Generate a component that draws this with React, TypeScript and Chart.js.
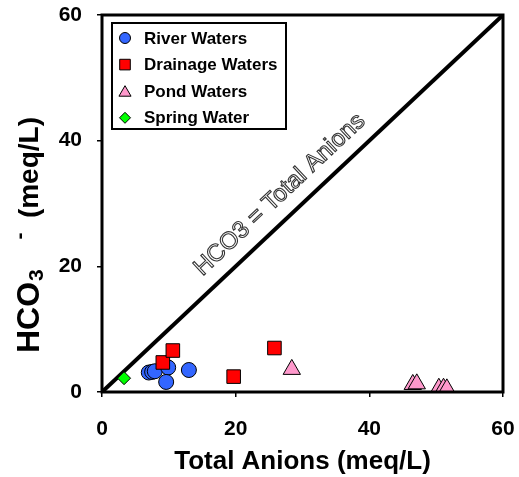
import React, { useEffect, useRef } from "react";
import { Chart, registerables } from "chart.js";

Chart.register(...registerables);

// Sample measurements: total anions vs bicarbonate (meq/L)
const riverX = [7.0, 7.5, 7.9, 9.9, 9.6, 13.0];
const riverY = [3.1, 3.2, 3.3, 3.9, 1.6, 3.5];
const drainageX = [9.1, 10.6, 19.7, 25.8];
const drainageY = [4.7, 6.6, 2.45, 7.0];
const pondX = [28.4, 46.5, 47.1, 50.4, 51.1, 51.6];
const pondY = [3.6, 1.2, 1.3, 0.6, 0.6, 0.5];
const springX = [3.3];
const springY = [2.2];

// 1:1 reference line
const equalLineX = [0, 60];
const equalLineY = [0, 60];

const axisTicks = [0, 20, 40, 60];
const seriesNames = ["River Waters", "Drainage Waters", "Pond Waters", "Spring Water"];
const equalLineLabel = "HCO3 = Total Anions";
const xTitle = "Total Anions (meq/L)";

const FONT = "'Liberation Sans', Arial, sans-serif";

const zip = (xs: number[], ys: number[]) => xs.map((x, i) => ({ x, y: ys[i] }));

const styles = [
  { style: "circle", fill: "#3366ff", radius: 7.5 },
  { style: "rect", fill: "#ff0000", radius: 9.6 },
  { style: "triangle", fill: "#ff99cc", radius: 10 },
  { style: "rectRot", fill: "#00ff00", radius: 6.5 },
];

function drawMarker(ctx: CanvasRenderingContext2D, kind: string, x: number, y: number, r: number, fill: string) {
  ctx.save();
  ctx.beginPath();
  if (kind === "circle") {
    ctx.arc(x, y, r, 0, Math.PI * 2);
  } else if (kind === "rect") {
    const s = r * Math.SQRT1_2;
    ctx.rect(x - s, y - s, 2 * s, 2 * s);
  } else if (kind === "triangle") {
    ctx.moveTo(x, y - r);
    ctx.lineTo(x + r * Math.sin(Math.PI * 2 / 3), y - r * Math.cos(Math.PI * 2 / 3));
    ctx.lineTo(x - r * Math.sin(Math.PI * 2 / 3), y - r * Math.cos(Math.PI * 2 / 3));
    ctx.closePath();
  } else {
    ctx.moveTo(x - r, y);
    ctx.lineTo(x, y - r);
    ctx.lineTo(x + r, y);
    ctx.lineTo(x, y + r);
    ctx.closePath();
  }
  ctx.fillStyle = fill;
  ctx.fill();
  ctx.lineWidth = 1;
  ctx.strokeStyle = "#000";
  ctx.stroke();
  ctx.restore();
}

const decorPlugin = {
  id: "decor",
  afterDatasetsDraw(chart: any) {
    const { ctx, chartArea, scales } = chart;
    const xs = scales.x;
    const ys = scales.y;

    // frame around plot area
    ctx.save();
    ctx.lineWidth = 3;
    ctx.strokeStyle = "#000";
    ctx.strokeRect(chartArea.left, chartArea.top, chartArea.right - chartArea.left, chartArea.bottom - chartArea.top);
    ctx.restore();

    // label along the 1:1 line
    const x0 = xs.getPixelForValue(0), y0 = ys.getPixelForValue(0);
    const x1 = xs.getPixelForValue(60), y1 = ys.getPixelForValue(60);
    const ang = Math.atan2(y1 - y0, x1 - x0);
    const px = xs.getPixelForValue(26.6);
    const py = ys.getPixelForValue(31.4);
    ctx.save();
    ctx.translate(px, py);
    ctx.rotate(ang);
    ctx.font = `24px ${FONT}`;
    ctx.textAlign = "center";
    ctx.textBaseline = "middle";
    ctx.fillStyle = "#ffffff";
    ctx.fillText(equalLineLabel, 0, 0);
    ctx.lineWidth = 1.1;
    ctx.strokeStyle = "#333";
    ctx.strokeText(equalLineLabel, 0, 0);
    ctx.restore();

    // legend box
    const lx = chartArea.left + 10, ly = chartArea.top + 8;
    ctx.save();
    ctx.fillStyle = "#fff";
    ctx.fillRect(lx, ly, 174, 106);
    ctx.lineWidth = 2;
    ctx.strokeStyle = "#000";
    ctx.strokeRect(lx, ly, 174, 106);
    ctx.font = `bold 17px ${FONT}`;
    ctx.textBaseline = "middle";
    ctx.textAlign = "left";
    seriesNames.forEach((name, i) => {
      const cy = ly + 15 + i * 26.6;
      const st = styles[i];
      const r = st.style === "rect" ? 7.5 : st.style === "triangle" ? 7 : 5.5;
      drawMarker(ctx, st.style, lx + 13, cy + (st.style === "triangle" ? 1.5 : 0), r, st.fill);
      ctx.fillStyle = "#000";
      ctx.fillText(name, lx + 32, cy + 1);
    });
    ctx.restore();

    // y-axis title with sub/superscript, running bottom to top
    ctx.save();
    ctx.translate(30, 353);
    ctx.rotate(-Math.PI / 2);
    ctx.fillStyle = "#000";
    ctx.textBaseline = "middle";
    ctx.textAlign = "left";
    ctx.font = `bold 32px ${FONT}`;
    ctx.fillText("HCO", 0, 0);
    const cx = ctx.measureText("HCO").width + 1;
    ctx.font = `bold 21px ${FONT}`;
    ctx.fillText("3", cx, 7);
    ctx.textAlign = "center";
    ctx.fillText("-", 117, -10);
    ctx.textAlign = "left";
    ctx.font = `bold 28px ${FONT}`;
    const tail = "(meq/L)";
    const tailW = ctx.measureText(tail).width;
    ctx.fillText(tail, 353 - 117 - tailW, 0);
    ctx.restore();
  },
};

export default function App() {
  const canvasRef = useRef<HTMLCanvasElement | null>(null);

  useEffect(() => {
    const canvas = canvasRef.current;
    if (!canvas) return;
    const ds = [
      { label: seriesNames[0], data: zip(riverX, riverY), order: 2, ...styles[0] },
      { label: seriesNames[1], data: zip(drainageX, drainageY), order: 1, ...styles[1] },
      { label: seriesNames[2], data: zip(pondX, pondY), order: 1, ...styles[2] },
      { label: seriesNames[3], data: zip(springX, springY), order: 1, ...styles[3] },
    ].map((d: any) => ({
      label: d.label,
      data: d.data,
      order: d.order,
      pointStyle: d.style,
      pointRadius: d.radius,
      pointHoverRadius: d.radius,
      backgroundColor: d.fill,
      borderColor: "#000",
      borderWidth: 1,
      showLine: false,
    }));

    const chart = new Chart(canvas, {
      type: "scatter",
      data: {
        datasets: [
          ...ds,
          {
            label: "1:1",
            data: zip(equalLineX, equalLineY),
            showLine: true,
            borderColor: "#000",
            borderWidth: 4,
            pointRadius: 0,
            order: 5,
          } as any,
        ],
      },
      options: {
        animation: false,
        responsive: false,
        devicePixelRatio: 1,
        layout: { padding: { top: 15, right: 16, left: 0, bottom: 0 } },
        plugins: { legend: { display: false }, tooltip: { enabled: false } },
        scales: {
          x: {
            type: "linear",
            min: 0,
            max: 60,
            afterBuildTicks: (s: any) => { s.ticks = axisTicks.map((v) => ({ value: v })); },
            afterFit: (s: any) => { s.height = 85; s.paddingLeft = 0; s.paddingRight = 0; },
            grid: { drawOnChartArea: false, drawTicks: true, tickLength: 5, color: "#000", lineWidth: 1.5 },
            border: { display: false },
            ticks: { color: "#000", font: { family: FONT, size: 21, weight: "bold" }, padding: 20, maxRotation: 0 },
            title: { display: true, text: xTitle, color: "#000", font: { family: FONT, size: 26, weight: "bold" }, padding: 0 },
          },
          y: {
            type: "linear",
            min: 0,
            max: 60,
            afterBuildTicks: (s: any) => { s.ticks = axisTicks.map((v) => ({ value: v })); },
            afterFit: (s: any) => { s.width = 102; s.paddingTop = 0; s.paddingBottom = 0; },
            grid: { drawOnChartArea: false, drawTicks: true, tickLength: 5, color: "#000", lineWidth: 1.5 },
            border: { display: false },
            ticks: { color: "#000", font: { family: FONT, size: 21, weight: "bold" }, padding: 15 },
          },
        },
      },
      plugins: [decorPlugin],
    });
    return () => chart.destroy();
  }, []);

  return (
    <div style={{ position: "absolute", left: 0, top: 0, width: 519, height: 477, background: "#fff" }}>
      <canvas ref={canvasRef} width={519} height={477} style={{ width: 519, height: 477, display: "block" }} />
    </div>
  );
}
